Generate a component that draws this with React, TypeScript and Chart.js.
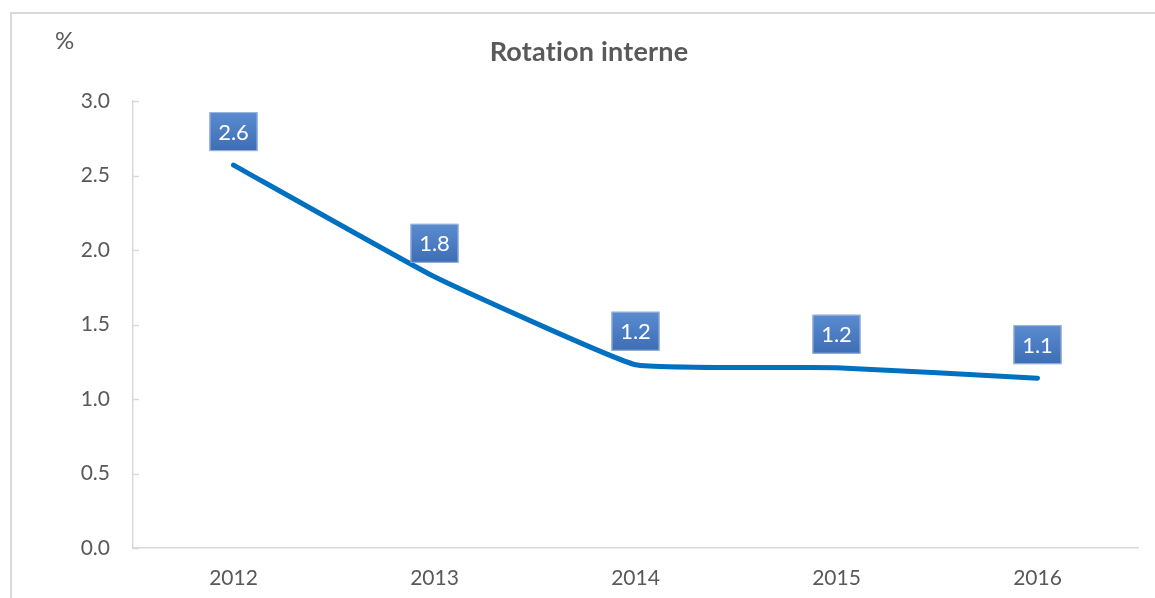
import React, { useEffect, useRef } from "react";
import { Chart, registerables } from "chart.js";

Chart.register(...registerables);

const categories = ["2012", "2013", "2014", "2015", "2016"];
const rotationValues = [2.57, 1.82, 1.23, 1.21, 1.14];
const yTicks = [0, 0.5, 1, 1.5, 2, 2.5, 3];
const titleText = "Rotation interne";
const unitText = "%";

const FONT = "Lato, 'Open Sans', sans-serif";
const TEXT = "#595959";
const AXIS = "#d9d9d9";

export default function App() {
  const ref = useRef<HTMLCanvasElement | null>(null);

  useEffect(() => {
    if (!ref.current) return;

    const framePlugin = {
      id: "frame",
      beforeDraw(chart: any) {
        const ctx = chart.ctx;
        ctx.save();
        ctx.fillStyle = "#ffffff";
        ctx.fillRect(0, 0, chart.width, chart.height);
        ctx.strokeStyle = AXIS;
        ctx.lineWidth = 2;
        ctx.beginPath();
        ctx.moveTo(11, chart.height);
        ctx.lineTo(11, 13);
        ctx.lineTo(chart.width, 13);
        ctx.stroke();
        ctx.restore();
      },
    };

    const textPlugin = {
      id: "texts",
      afterDraw(chart: any) {
        const ctx = chart.ctx;
        ctx.save();
        ctx.fillStyle = TEXT;
        ctx.textAlign = "center";
        ctx.textBaseline = "alphabetic";
        ctx.font = `bold 27px ${FONT}`;
        try {
          (ctx as any).textRendering = "optimizeSpeed";
          (ctx as any).letterSpacing = "0.2px";
        } catch (e) {}
        ctx.fillText(titleText, 589, 61);
        try {
          (ctx as any).letterSpacing = "0px";
        } catch (e) {}
        ctx.textAlign = "left";
        ctx.font = `24px ${FONT}`;
        ctx.fillText(unitText, 55, 49);
        // inward y ticks
        const y = chart.scales.y;
        const left = chart.chartArea.left;
        ctx.strokeStyle = AXIS;
        ctx.lineWidth = 1.5;
        y.ticks.forEach((t: any) => {
          const py = Math.round(y.getPixelForValue(t.value)) + 0.5;
          ctx.beginPath();
          ctx.moveTo(left, py);
          ctx.lineTo(left + 6, py);
          ctx.stroke();
        });
        ctx.restore();
      },
    };

    const labelPlugin = {
      id: "boxLabels",
      afterDatasetsDraw(chart: any) {
        const ctx = chart.ctx;
        const meta = chart.getDatasetMeta(0);
        const data = chart.data.datasets[0].data as number[];
        ctx.save();
        meta.data.forEach((pt: any, i: number) => {
          const w = 48;
          const h = 39;
          const x0 = pt.x - w / 2;
          const y0 = pt.y - 14 - h;
          const g = ctx.createLinearGradient(0, y0, 0, y0 + h);
          g.addColorStop(0, "#5b8bcf");
          g.addColorStop(1, "#3d6eb5");
          ctx.fillStyle = g;
          ctx.fillRect(x0, y0, w, h);
          ctx.strokeStyle = "#9bb7dc";
          ctx.lineWidth = 1;
          ctx.strokeRect(x0 + 0.5, y0 + 0.5, w - 1, h - 1);
          ctx.fillStyle = "#ffffff";
          ctx.font = `22px ${FONT}`;
          ctx.textAlign = "center";
          ctx.textBaseline = "middle";
          ctx.fillText(data[i].toFixed(1), pt.x, y0 + h / 2 + 1);
        });
        ctx.restore();
      },
    };

    const chart = new Chart(ref.current, {
      type: "line",
      data: {
        labels: categories,
        datasets: [
          {
            data: rotationValues,
            borderColor: "#0070c0",
            borderWidth: 5,
            pointRadius: 0,
            tension: 0.1,
            borderCapStyle: "round",
            borderJoinStyle: "round",
            fill: false,
          },
        ],
      },
      options: {
        responsive: false,
        animation: false,
        layout: { padding: { left: 0, right: 17, top: 101, bottom: 0 } },
        plugins: {
          legend: { display: false },
          title: { display: false },
          tooltip: { enabled: false },
        },
        scales: {
          x: {
            offset: true,
            grid: { display: false, drawTicks: false },
            border: { display: true, color: AXIS, width: 1.5 },
            ticks: { color: TEXT, font: { family: FONT, size: 21 }, padding: 18 },
            afterFit(scale: any) {
              scale.height = 50;
            },
          },
          y: {
            min: 0,
            max: 3,
            afterBuildTicks(scale: any) {
              scale.ticks = yTicks.map((v) => ({ value: v }));
            },
            grid: { display: false, drawTicks: false },
            border: { display: true, color: AXIS, width: 1.5 },
            ticks: {
              color: TEXT,
              font: { family: FONT, size: 21 },
              padding: 23,
              callback: (v: any) => Number(v).toFixed(1),
            },
            afterFit(scale: any) {
              scale.width = 133;
            },
          },
        },
      },
      plugins: [framePlugin, labelPlugin, textPlugin],
    } as any);

    return () => chart.destroy();
  }, []);

  return (
    <div style={{ position: "absolute", left: 0, top: 0, width: 1155, height: 598 }}>
      <canvas ref={ref} width={1155} height={598} style={{ display: "block" }} />
    </div>
  );
}
